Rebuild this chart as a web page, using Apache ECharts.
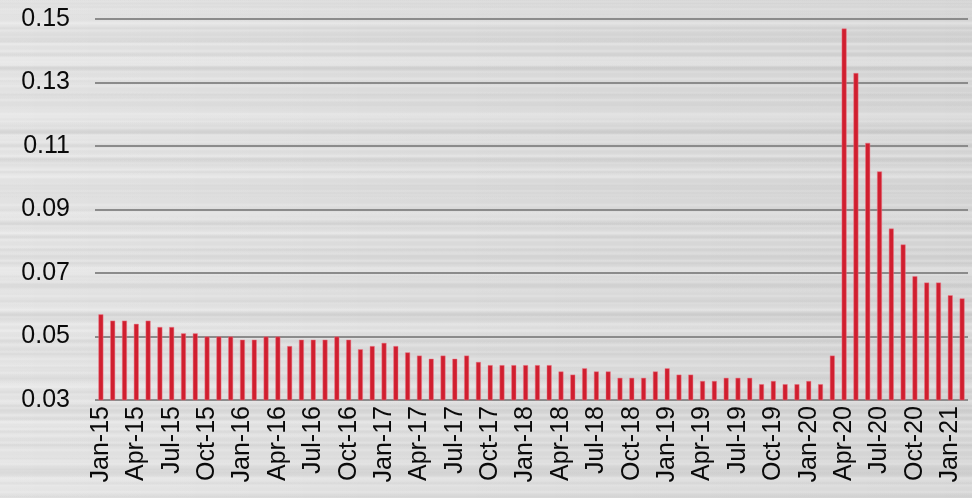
<!DOCTYPE html>
<html>
<head>
<meta charset="utf-8">
<script src="https://cdn.jsdelivr.net/npm/echarts@6/dist/echarts.min.js"></script>
<style>
  html, body { margin: 0; padding: 0; }
  /* brushed-metal backdrop: soft horizontal streaks of mixed periods over a light grey base */
  #chart {
    width: 972px;
    height: 498px;
    background-color: #dadada;
    background-image:
      repeating-linear-gradient(180deg, rgba(255,255,255,0.00) 0px, rgba(255,255,255,0.22) 2px, rgba(255,255,255,0.00) 4px, rgba(255,255,255,0.00) 7px),
      repeating-linear-gradient(180deg, rgba(0,0,0,0.00) 0px, rgba(0,0,0,0.035) 3px, rgba(0,0,0,0.00) 5px, rgba(0,0,0,0.00) 13px),
      repeating-linear-gradient(180deg, rgba(255,255,255,0.00) 0px, rgba(255,255,255,0.18) 5px, rgba(255,255,255,0.00) 9px, rgba(255,255,255,0.00) 19px),
      repeating-linear-gradient(180deg, rgba(0,0,0,0.00) 0px, rgba(0,0,0,0.04) 7px, rgba(0,0,0,0.00) 13px, rgba(0,0,0,0.00) 31px),
      repeating-linear-gradient(180deg, rgba(255,255,255,0.00) 0px, rgba(255,255,255,0.15) 10px, rgba(255,255,255,0.00) 20px, rgba(255,255,255,0.00) 53px),
      linear-gradient(90deg, rgba(255,255,255,0.22) 0%, rgba(255,255,255,0.0) 45%, rgba(0,0,0,0.03) 100%);
  }
</style>
</head>
<body>
<div id="chart"></div>
<script>
// Monthly unemployment rate, Jan 2015 – Feb 2021
const months = [
  'Jan-15','Feb-15','Mar-15','Apr-15','May-15','Jun-15','Jul-15','Aug-15','Sep-15','Oct-15','Nov-15','Dec-15',
  'Jan-16','Feb-16','Mar-16','Apr-16','May-16','Jun-16','Jul-16','Aug-16','Sep-16','Oct-16','Nov-16','Dec-16',
  'Jan-17','Feb-17','Mar-17','Apr-17','May-17','Jun-17','Jul-17','Aug-17','Sep-17','Oct-17','Nov-17','Dec-17',
  'Jan-18','Feb-18','Mar-18','Apr-18','May-18','Jun-18','Jul-18','Aug-18','Sep-18','Oct-18','Nov-18','Dec-18',
  'Jan-19','Feb-19','Mar-19','Apr-19','May-19','Jun-19','Jul-19','Aug-19','Sep-19','Oct-19','Nov-19','Dec-19',
  'Jan-20','Feb-20','Mar-20','Apr-20','May-20','Jun-20','Jul-20','Aug-20','Sep-20','Oct-20','Nov-20','Dec-20',
  'Jan-21','Feb-21'
];

const rate2015 = [0.057, 0.055, 0.055, 0.054, 0.055, 0.053, 0.053, 0.051, 0.051, 0.050, 0.050, 0.050];
const rate2016 = [0.049, 0.049, 0.050, 0.050, 0.047, 0.049, 0.049, 0.049, 0.050, 0.049, 0.046, 0.047];
const rate2017 = [0.048, 0.047, 0.045, 0.044, 0.043, 0.044, 0.043, 0.044, 0.042, 0.041, 0.041, 0.041];
const rate2018 = [0.041, 0.041, 0.041, 0.039, 0.038, 0.040, 0.039, 0.039, 0.037, 0.037, 0.037, 0.039];
const rate2019 = [0.040, 0.038, 0.038, 0.036, 0.036, 0.037, 0.037, 0.037, 0.035, 0.036, 0.035, 0.035];
const rate2020 = [0.036, 0.035, 0.044, 0.147, 0.133, 0.111, 0.102, 0.084, 0.079, 0.069, 0.067, 0.067];
const rate2021 = [0.063, 0.062];

const yTicks = [0.03, 0.05, 0.07, 0.09, 0.11, 0.13, 0.15];

const rates = [].concat(rate2015, rate2016, rate2017, rate2018, rate2019, rate2020, rate2021);

const chart = echarts.init(document.getElementById('chart'), null, { renderer: 'canvas' });

chart.setOption({
  backgroundColor: 'transparent',
  animation: false,
  textStyle: { fontFamily: '"Liberation Sans", Arial, sans-serif' },
  grid: { left: 95, right: 4, top: 19, bottom: 98, containLabel: false },
  xAxis: {
    type: 'category',
    data: months,
    boundaryGap: true,
    axisLine: { show: false },
    axisTick: { show: false },
    axisLabel: {
      interval: 2,
      rotate: 90,
      margin: 6,
      fontSize: 25,
      color: '#0a0a0a',
      fontFamily: '"Liberation Sans", Arial, sans-serif'
    }
  },
  yAxis: {
    type: 'value',
    min: yTicks[0],
    max: yTicks[yTicks.length - 1],
    interval: 0.02,
    axisLine: { show: false },
    axisTick: { show: false },
    axisLabel: {
      margin: 25,
      fontSize: 25,
      color: '#0a0a0a',
      fontFamily: '"Liberation Sans", Arial, sans-serif',
      formatter: v => v.toFixed(2)
    },
    splitLine: { show: true, lineStyle: { color: '#8b8b8b', width: 2 } }
  },
  series: [{
    type: 'bar',
    data: rates,
    barWidth: 5,
    itemStyle: {
      color: '#d01f2f',
      borderColor: 'rgba(236,120,135,0.8)',
      borderWidth: 0.6
    }
  }]
});
</script>
</body>
</html>
